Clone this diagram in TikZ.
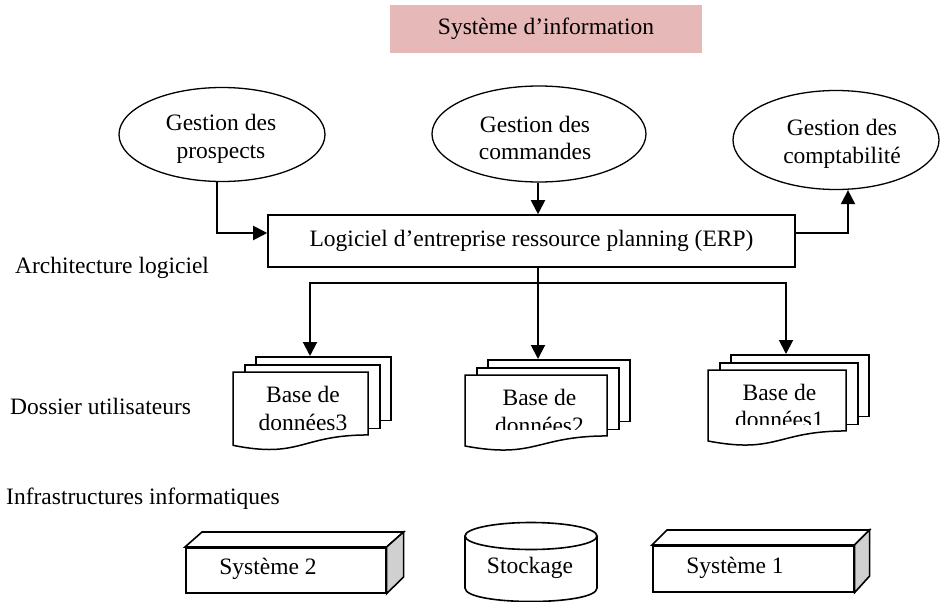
\documentclass[tikz,border=0pt]{standalone}
\usepackage{fontspec}
\setmainfont{Liberation Serif}
\usetikzlibrary{arrows.meta,shapes.geometric,calc}
\definecolor{titlepink}{RGB}{230,184,183}
\definecolor{sidegray}{RGB}{208,208,208}

% stack of three document sheets: #1 name, #2 left, #3 top, #4 width, #5 height, #6 x of incoming arrow
\newcommand{\docstack}[6]{%
  \node[sheet, minimum width=#4pt, minimum height=#5*0.81pt, anchor=north west] (#1-back) at ({#2+22},{#3-16}) {};
  \node[sheet, minimum width=#4pt, minimum height=#5*0.81pt, anchor=north west] (#1-mid) at ({#2+11},{#3-8}) {};
  \draw[sheet] (#2,#3) -- ({#2+#4},#3) -- ({#2+#4},{#3+0.802*#5})
    .. controls ({#2+#4/2},{#3+0.802*#5}) and ({#2+#4/2},{#3+1.1075*#5}) .. (#2,{#3+0.934*#5}) -- cycle;
  \coordinate (#1-in) at (#6,0 |- #1-back.north);
}
% box drawn in perspective: #1 name, #2 left, #3 top, #4 width, #5 height, #6 depth
\newcommand{\solidbox}[6]{%
  \node[boxline, fill=white, minimum width=#4pt, minimum height=#5pt, anchor=north west] (#1) at (#2,#3) {};
  \draw[boxline, fill=white] (#1.north west) -- ++(#6,-15) -- ($(#1.north east)+(#6,-15)$) -- (#1.north east) -- cycle;
  \draw[boxline, fill=sidegray] (#1.north east) -- ++(#6,-15) -- ++(0,#5) -- (#1.south east) -- cycle;
}

\begin{document}
\begin{tikzpicture}[x=1pt,y=-1pt,
  every node/.style={font=\fontsize{23.5}{27.5}\selectfont, inner sep=0pt},
  txt/.style={align=center},
  proc/.style={draw, ellipse, line width=1.3pt, inner sep=0pt},
  boxline/.style={draw, line width=1.6pt},
  sheet/.style={draw, fill=white, line width=1.5pt},
  conn/.style={line width=2pt, -{Triangle[length=14pt,width=14pt]}}]
\useasboundingbox (0,0) rectangle (943,602);

% title
\node[fill=titlepink, minimum width=312pt, minimum height=48pt] (title) at (546,29) {Système d’information};

% management processes
\node[proc, minimum width=206pt, minimum height=94pt] (pros) at (222,134.5) {};
\node[txt] (pros-t) at (221,139) {Gestion des\\prospects};
\node[proc, minimum width=214pt, minimum height=96pt] (cmd) at (539,134) {};
\node[txt] (cmd-t) at (535,138) {Gestion des\\commandes};
\node[proc, minimum width=206pt, minimum height=99pt] (cpt) at (836,140) {};
\node[txt] (cpt-t) at (842,144) {Gestion des\\comptabilité};

% ERP
\node[boxline, minimum width=527pt, minimum height=52pt] (erp) at (531.5,241) {Logiciel d’entreprise ressource planning (ERP)};
\coordinate (lvlA) at (0,233);
\draw[conn] ([xshift=-5pt]pros.south) |- (erp.west |- lvlA);
\draw[conn] (cmd.south -| 538,0) -- (538,0 |- erp.north);
\draw[conn] (erp.east |- lvlA) -| ([xshift=12pt]cpt.south);

% layer labels
\node[anchor=base west] (lbl-arch) at (15,273) {Architecture logiciel};
\node[anchor=base west] (lbl-doss) at (10,414) {Dossier utilisateurs};
\node[anchor=base west] (lbl-infra) at (6,504) {Infrastructures informatiques};

% user files
\docstack{db3}{233}{372}{135}{78.5}{310}
\node[txt] (db3-t) at (303,408.5) {Base de\\données3};
\docstack{db2}{465}{375}{142}{76}{538}
\begin{scope}
  \clip (465,375) rectangle (607,429.5);
  \node[txt] (db2-t) at (539.5,411.5) {Base de\\données2};
\end{scope}
\docstack{db1}{708}{370}{138}{76}{786}
\begin{scope}
  \clip (708,370) rectangle (846,424.5);
  \node[txt] (db1-t) at (779.5,406) {Base de\\données1};
\end{scope}

% distribution from the ERP
\coordinate (bus) at (538,283);
\draw[conn] (erp.south -| bus) -- (db2-in);
\draw[conn] (bus) -| (db3-in);
\draw[conn] (bus) -| (db1-in);

% infrastructure
\solidbox{sys2}{185}{547}{200}{45}{17}
\node (sys2-t) at (268,569) {Système 2};
\draw[boxline, fill=white] (465,536) -- (465,588) .. controls (465,606) and (597,606) .. (597,588) -- (597,536);
\draw[boxline, fill=white] (531,536) ellipse[x radius=66, y radius=13.5];
\node (stock) at (530,568) {Stockage};
\solidbox{sys1}{652}{545}{201}{46}{15}
\node (sys1-t) at (735,568) {Système 1};
\end{tikzpicture}
\end{document}
